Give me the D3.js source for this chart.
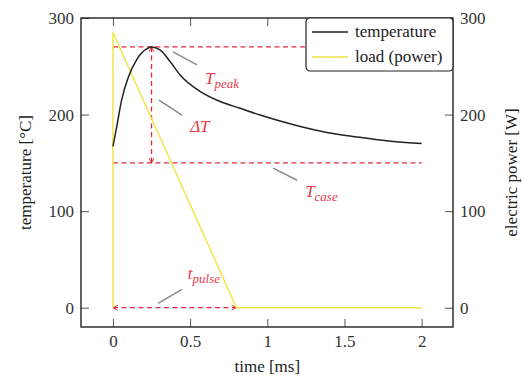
<!DOCTYPE html>
<html>
<head>
<meta charset="utf-8">
<script src="https://cdn.jsdelivr.net/npm/d3@7"></script>
<style>
  body { margin: 0; background: #fff; }
  svg text { font-family: "Liberation Serif", "Times New Roman", Tinos, "DejaVu Serif", "Noto Serif", serif !important; }
</style>
</head>
<body>
<div id="chart"></div>
<script>
"use strict";

// temperature curve [ms, °C]
const tempTime = [0, 0.024, 0.056, 0.1, 0.154, 0.218, 0.25, 0.305, 0.37, 0.435, 0.564, 0.694, 0.824, 0.953, 1.17, 1.386, 1.6, 1.818, 2];
const tempValue = [167, 187, 215, 239, 257, 268, 270, 267, 255, 241, 224, 213.5, 206.5, 199.5, 189.5, 181.5, 176.5, 172, 170];

// load pulse [ms, W]
const loadTime = [0, 0, 0.8, 2];
const loadValue = [0, 285, 0, 0];

// annotation values
const tPeak = 270, tCase = 150, tPeakTime = 0.25, pulseEnd = 0.8, endTime = 2;

const xTicks = [0, 0.5, 1, 1.5, 2];
const yTicks = [0, 100, 200, 300];

// graph dimensions and margins
const margin = { left: 81, top: 18, right: 69, bottom: 49 },
      W = 522, H = 376,
      w = W - margin.left - margin.right,
      h = H - margin.top - margin.bottom;

const red = "#dc2a3c", redText = "#e5394b", yellow = "#f0e44a";

const svg = d3.select("#chart").append("svg")
    .attr("width", W).attr("height", H);

const defs = svg.append("defs");
defs.append("marker")
    .attr("id", "arr")
    .attr("viewBox", "0 0 10 10")
    .attr("refX", 9).attr("refY", 5)
    .attr("markerWidth", 6).attr("markerHeight", 6)
    .attr("markerUnits", "userSpaceOnUse")
    .attr("orient", "auto-start-reverse")
  .append("path")
    .attr("d", "M1,1 L9,5 L1,9")
    .attr("fill", "none")
    .attr("stroke", red)
    .attr("stroke-width", 1.6);

const chart = svg.append("g")
    .attr("transform", "translate(" + margin.left + "," + margin.top + ")");

const x = d3.scaleLinear().domain([-0.207, 2.203]).range([0, w]),
      y = d3.scaleLinear().domain([-20, 300]).range([h, 0]);

// axes with inward ticks
const fmt = d => String(d);
chart.append("g")
    .attr("transform", "translate(0," + h + ")")
    .call(d3.axisBottom(x).tickValues(xTicks).tickFormat(fmt).tickSizeInner(-8).tickSizeOuter(0).tickPadding(8));
chart.append("g")
    .call(d3.axisTop(x).tickValues(xTicks).tickFormat("").tickSizeInner(-8).tickSizeOuter(0));
chart.append("g")
    .call(d3.axisLeft(y).tickValues(yTicks).tickFormat(fmt).tickSizeInner(-8).tickSizeOuter(0).tickPadding(7));
chart.append("g")
    .attr("transform", "translate(" + w + ",0)")
    .call(d3.axisRight(y).tickValues(yTicks).tickFormat(fmt).tickSizeInner(-8).tickSizeOuter(0).tickPadding(7));

chart.selectAll(".tick text")
    .attr("font-size", 17)
    .attr("fill", "#333");
chart.selectAll(".tick line").attr("stroke", "#555");
chart.selectAll(".domain").remove();

// frame
chart.append("rect")
    .attr("width", w).attr("height", h)
    .attr("fill", "none")
    .attr("stroke", "#222")
    .attr("stroke-width", 1.4);

const line = d3.line().x(d => x(d[0])).y(d => y(d[1]));

// dashed reference lines
const dash = (x1, y1, x2, y2, arrows) => {
  const l = chart.append("line")
      .attr("x1", x(x1)).attr("y1", y(y1))
      .attr("x2", x(x2)).attr("y2", y(y2))
      .attr("stroke", red)
      .attr("stroke-width", 1.3)
      .attr("stroke-dasharray", "5,3.5");
  if (arrows) l.attr("marker-start", "url(#arr)").attr("marker-end", "url(#arr)");
};
dash(0, tPeak, endTime, tPeak);
dash(0, tCase, endTime, tCase);
dash(tPeakTime, tPeak, tPeakTime, tCase, true);
dash(0, 0, pulseEnd, 0, true);

// load (power)
chart.append("path")
    .datum(loadTime.map((t, i) => [t, loadValue[i]]))
    .attr("d", line)
    .attr("fill", "none")
    .attr("stroke", yellow)
    .attr("stroke-width", 1.5);

// temperature
chart.append("path")
    .datum(tempTime.map((t, i) => [t, tempValue[i]]))
    .attr("d", line.curve(d3.curveMonotoneX))
    .attr("fill", "none")
    .attr("stroke", "#222")
    .attr("stroke-width", 1.5);

// leader lines (gray)
const leaders = [
  [0.389, 265, 0.545, 251.5],
  [0.298, 215, 0.447, 199.5],
  [1.038, 144.5, 1.193, 132],
  [0.292, 4.5, 0.447, 19]
];
chart.selectAll(".leader")
  .data(leaders)
  .join("line")
    .attr("class", "leader")
    .attr("x1", d => x(d[0])).attr("y1", d => y(d[1]))
    .attr("x2", d => x(d[2])).attr("y2", d => y(d[3]))
    .attr("stroke", "#8a8a8a")
    .attr("stroke-width", 1.5);

// annotation labels
const label = (tx, ty, main, sub) => {
  const t = chart.append("text")
      .attr("x", x(tx)).attr("y", y(ty))
      .attr("fill", redText)
      .attr("font-style", "italic")
      .attr("font-size", 17);
  t.append("tspan").text(main);
  if (sub) t.append("tspan").attr("font-size", 13).attr("dy", 4).text(sub);
};
label(0.597, 232, "T", "peak");
label(0.5, 182, "ΔT");
label(1.245, 115, "T", "case");
label(0.485, 30, "t", "pulse");

// axis titles
svg.append("text")
    .attr("x", margin.left + x(1))
    .attr("y", 372)
    .attr("text-anchor", "middle")
    .attr("font-size", 17)
    .attr("fill", "#222")
    .text("time [ms]");
svg.append("text")
    .attr("transform", "translate(31," + (margin.top + h / 2) + ") rotate(-90)")
    .attr("text-anchor", "middle")
    .attr("font-size", 17)
    .attr("fill", "#222")
    .text("temperature [°C]");
svg.append("text")
    .attr("transform", "translate(517," + (margin.top + h / 2) + ") rotate(-90)")
    .attr("text-anchor", "middle")
    .attr("font-size", 17)
    .attr("fill", "#222")
    .text("electric power [W]");

// legend
const legend = svg.append("g").attr("transform", "translate(306,18)");
legend.append("rect")
    .attr("width", 147).attr("height", 53)
    .attr("rx", 4)
    .attr("fill", "#fff")
    .attr("stroke", "#222")
    .attr("stroke-width", 1.2);
const items = [["temperature", "#222"], ["load (power)", yellow]];
items.forEach(function(d, i) {
  const yy = 14 + i * 25;
  legend.append("line")
      .attr("x1", 6).attr("x2", 42)
      .attr("y1", yy).attr("y2", yy)
      .attr("stroke", d[1]).attr("stroke-width", 1.5);
  legend.append("text")
      .attr("x", 49).attr("y", yy + 5)
      .attr("font-size", 17)
      .attr("fill", "#222")
      .text(d[0]);
});
</script>
</body>
</html>
